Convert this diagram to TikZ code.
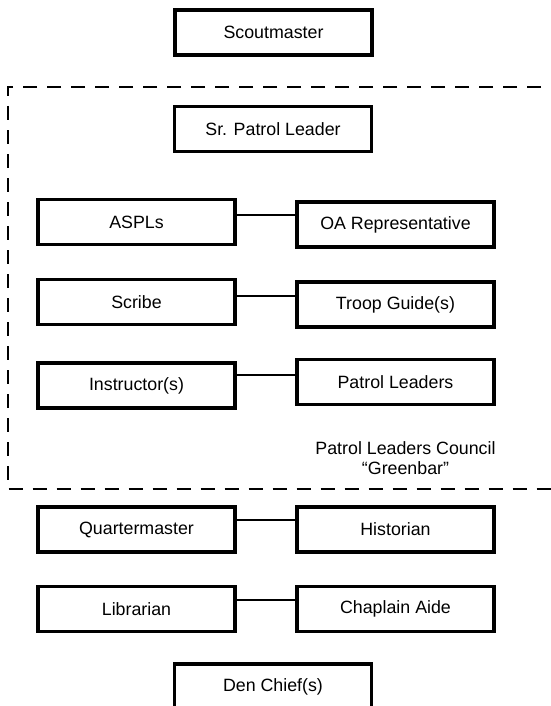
\documentclass[tikz,border=0pt]{standalone}
\usepackage{fontspec}
\setmainfont{Liberation Sans}
\usetikzlibrary{calc}
\begin{document}
\begin{tikzpicture}[x=1pt,y=1pt,
  role/.style={draw=black,line width=3.2pt,rectangle,minimum width=197pt,minimum height=45pt,inner sep=0pt,font=\fontsize{17.8}{21}\selectfont},
  link/.style={draw=black,line width=1.3pt},
  council/.style={draw=black,line width=2pt,dash pattern=on 14pt off 10pt}]
\useasboundingbox (0,0) rectangle (550,-706);
\node[role] (sm) at (273.5,-32.5) {Scoutmaster};
\node[role] (spl) at (273,-129) {Sr. Patrol Leader};
\node[role] (aspl) at (136.5,-222) {ASPLs};
\node[role] (oa) at (395.5,-224.5) {OA Representative};
\node[role] (scribe) at (136.5,-302) {Scribe};
\node[role] (tg) at (395.5,-304.5) {Troop Guide(s)};
\node[role] (instr) at (136.5,-385.5) {Instructor(s)};
\node[role] (pl) at (395.5,-382) {Patrol Leaders};
\node[role] (qm) at (136.5,-529.5) {Quartermaster};
\node[role] (hist) at (395.5,-529.5) {Historian};
\node[role] (lib) at (136.5,-609) {Librarian};
\node[role] (chap) at (395.5,-609) {Chaplain Aide};
\node[role] (den) at (273,-686.5) {Den Chief(s)};
\node[align=center,font=\fontsize{17.8}{20}\selectfont,inner sep=0pt] (plc) at (405.5,-458.5) {Patrol Leaders Council\\“Greenbar”};
\coordinate (dtr) at (565,-87.5);
\coordinate (dtl) at (7.5,-87.5);
\coordinate (dbl) at (7.5,-489);
\coordinate (dbr) at (565,-489);
\draw[council] (dtr) -- (dtl) -- (dbl) -- (dbr);
\draw[link] ([yshift=7pt]aspl.east) -- ([yshift=7pt]aspl.east -| oa.west);
\draw[link] ([yshift=6pt]scribe.east) -- ([yshift=6pt]scribe.east -| tg.west);
\draw[link] ([yshift=10.5pt]instr.east) -- ([yshift=10.5pt]instr.east -| pl.west);
\draw[link] ([yshift=9.5pt]qm.east) -- ([yshift=9.5pt]qm.east -| hist.west);
\draw[link] ([yshift=9pt]lib.east) -- ([yshift=9pt]lib.east -| chap.west);
\end{tikzpicture}
\end{document}
